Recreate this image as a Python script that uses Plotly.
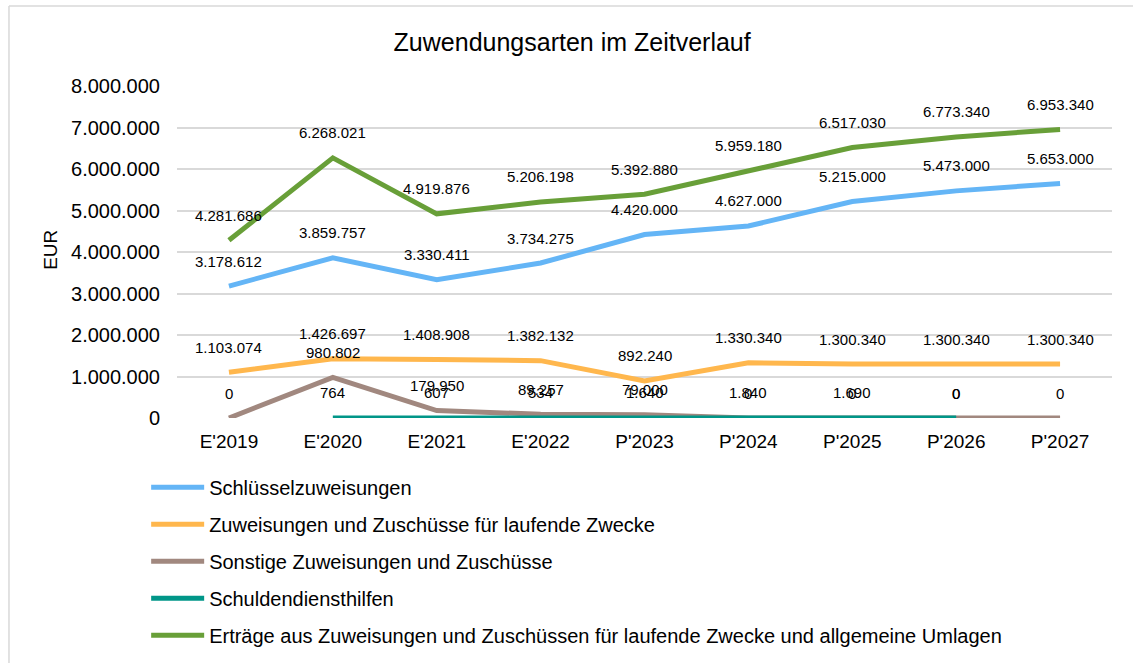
import plotly.graph_objects as go

# categories (E = Ergebnis, P = Plan)
jahre = ["E'2019", "E'2020", "E'2021", "E'2022", "P'2023", "P'2024", "P'2025", "P'2026", "P'2027"]

schluesselzuweisungen = [3178612, 3859757, 3330411, 3734275, 4420000, 4627000, 5215000, 5473000, 5653000]
zuweisungen_laufend = [1103074, 1426697, 1408908, 1382132, 892240, 1330340, 1300340, 1300340, 1300340]
sonstige = [0, 980802, 179950, 89257, 79000, 0, 0, 0, 0]
schuldendiensthilfen = [None, 764, 607, 534, 1640, 1840, 1690, 0, None]
ertraege = [4281686, 6268021, 4919876, 5206198, 5392880, 5959180, 6517030, 6773340, 6953340]

y_ticks = [0, 1000000, 2000000, 3000000, 4000000, 5000000, 6000000, 7000000, 8000000]

serien = [
    ("Schlüsselzuweisungen", schluesselzuweisungen, "#64B5F6"),
    ("Zuweisungen und Zuschüsse für laufende Zwecke", zuweisungen_laufend, "#FFB74D"),
    ("Sonstige Zuweisungen und Zuschüsse", sonstige, "#A1887F"),
    ("Schuldendiensthilfen", schuldendiensthilfen, "#009688"),
    ("Erträge aus Zuweisungen und Zuschüssen für laufende Zwecke und allgemeine Umlagen", ertraege, "#689F38"),
]


def fmt(v):
    return f"{v:,}".replace(",", ".")


fig = go.Figure()

for i, (name, werte, farbe) in enumerate(serien):
    fig.add_trace(
        go.Scatter(
            x=jahre,
            y=werte,
            name=name,
            mode="lines",
            legendgroup=f"g{i}",
            line=dict(color=farbe, width=5),
            connectgaps=False,
        )
    )

# data labels above the points (Excel style)
for name, werte, farbe in serien:
    for x, v in zip(jahre, werte):
        if v is None:
            continue
        fig.add_annotation(
            x=x,
            y=v,
            text=fmt(v),
            showarrow=False,
            yshift=25,
            font=dict(family="Liberation Sans, Arial", size=15, color="#000000"),
        )

# y axis title
fig.add_annotation(
    xref="paper",
    yref="paper",
    x=-0.136,
    y=0.506,
    xanchor="center",
    yanchor="middle",
    text="EUR",
    textangle=-90,
    showarrow=False,
    font=dict(size=19, color="#000000"),
)

# chart border: only the left and top edges are visible in the original crop
fig.add_shape(
    type="line",
    xref="paper",
    yref="paper",
    x0=-0.1797,
    x1=-0.1797,
    y0=-0.9,
    y1=1.241,
    line=dict(color="#D9D9D9", width=1.5),
    layer="below",
)
fig.add_shape(
    type="line",
    xref="paper",
    yref="paper",
    x0=-0.1797,
    x1=1.03,
    y0=1.241,
    y1=1.241,
    line=dict(color="#D9D9D9", width=1.5),
    layer="below",
)

fig.update_layout(
    width=1133,
    height=663,
    margin=dict(l=177, r=21, t=86, b=245, autoexpand=False),
    paper_bgcolor="white",
    plot_bgcolor="white",
    separators=",.",
    font=dict(family="Liberation Sans, Arial", color="#000000"),
    title=dict(
        text="Zuwendungsarten im Zeitverlauf",
        x=0.505,
        xanchor="center",
        y=0.937,
        yanchor="middle",
        font=dict(size=25, color="#000000"),
    ),
    showlegend=True,
    legend=dict(
        orientation="v",
        xref="container",
        yref="container",
        x=0.129,
        xanchor="left",
        y=0.2945,
        yanchor="top",
        font=dict(size=20, color="#000000"),
        itemwidth=53,
        tracegroupgap=8,
        bgcolor="rgba(0,0,0,0)",
    ),
    hovermode="x unified",
)

fig.update_xaxes(
    range=[-0.5, len(jahre) - 0.5],
    showgrid=False,
    showline=False,
    zeroline=False,
    tickfont=dict(size=19),
    ticks="",
    ticklabelstandoff=10,
)

fig.update_yaxes(
    range=[0, 8000000],
    tickvals=y_ticks,
    tickformat=",d",
    showgrid=True,
    gridcolor="#D9D9D9",
    gridwidth=1.5,
    zeroline=False,
    showline=False,
    tickfont=dict(size=20),
    ticks="",
    ticklabelstandoff=16,
)

fig.write_html(
    "out.html",
    config={"displayModeBar": False},
    post_script="document.body.style.margin='0';document.body.style.overflow='hidden';",
)
